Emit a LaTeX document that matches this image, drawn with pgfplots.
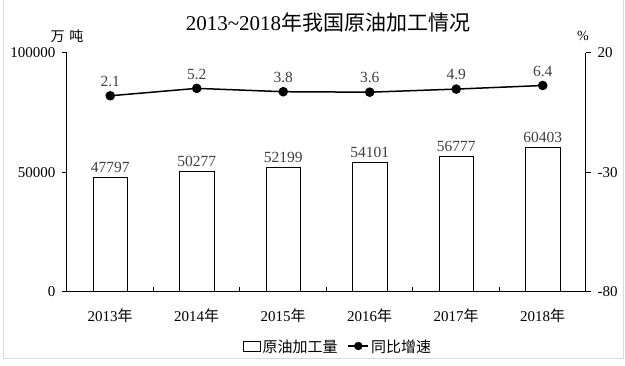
\documentclass[border=0pt]{standalone}
\usepackage{fontspec}
\setmainfont{Liberation Serif}
\newfontfamily\cjk{Noto Sans CJK SC}
\usepackage{pgfplots}
\pgfplotsset{compat=1.18}
\definecolor{lblgray}{HTML}{404040}
\definecolor{framegray}{HTML}{D9D9D9}
\begin{document}
\begin{tikzpicture}[x=1pt,y=1pt]
\path[use as bounding box] (0,0) rectangle (625,366);
\draw[framegray, line width=1pt] (3,7) rectangle (623,366.5);
% title and units
\node[font=\fontsize{21}{21}\selectfont] at (328,343) {2013\textasciitilde 2018{\cjk 年我国原油加工情况}};
\node[font=\fontsize{14}{14}\selectfont] at (67,330) {{\cjk 万}\hspace{5pt}{\cjk 吨}};
\node[font=\fontsize{14}{14}\selectfont] at (583,330) {\%};
% bars, left axis
\begin{axis}[
  at={(67pt,74pt)}, anchor=south west,
  scale only axis, width=519pt, height=239pt,
  xmin=-0.5, xmax=5.5, ymin=0, ymax=100000,
  axis x line*=bottom, axis y line*=left,
  axis line style={line width=1pt, -},
  xtick={0,1,2,3,4,5},
  xticklabels={2013{\cjk 年},2014{\cjk 年},2015{\cjk 年},2016{\cjk 年},2017{\cjk 年},2018{\cjk 年}},
  xtick style={draw=none},
  ytick={0,50000,100000},
  scaled y ticks=false,
  tick align=outside, major tick length=5pt,
  ytick style={line width=1pt, black},
  yticklabel style={/pgf/number format/fixed, /pgf/number format/set thousands separator={}},
  /pgf/number format/assume math mode=true,
  tick label style={font=\fontsize{15}{15}\selectfont, black},
  xticklabel style={yshift=-8pt},
  yticklabel style={xshift=-3pt},
  legend style={at={(0.522,-0.228)}, anchor=center, draw=none, legend columns=2,
    font=\fontsize{15}{15}\selectfont, /tikz/every even column/.append style={column sep=8pt}},
  legend image code/.code={},
]
\addplot[ybar, bar width=34.5pt, fill=white, draw=black, line width=0.9pt,
  point meta=explicit symbolic,
  nodes near coords, nodes near coords style={font=\fontsize{15.5}{15.5}\selectfont, text=lblgray, yshift=1pt},
  legend image code/.code={\draw[black, line width=0.8pt, fill=white] (0pt,-4.5pt) rectangle (17pt,5.5pt);}]
  coordinates {(0,47797)[47797] (1,50277)[50277] (2,52199)[52199] (3,54101)[54101] (4,56777)[56777] (5,60403)[60403]};
\addlegendentry{{\cjk 原油加工量}}
\addlegendimage{legend image code/.code={\draw[black, line width=1.5pt] (0pt,0.5pt) -- (20pt,0.5pt); \fill[black] (10pt,0.5pt) circle (4pt);}}
\addlegendentry{{\cjk 同比增速}}
\end{axis}
% x boundary ticks (inside)
\begin{axis}[
  at={(67pt,74pt)}, anchor=south west,
  scale only axis, width=519pt, height=239pt,
  xmin=-0.5, xmax=5.5, ymin=0, ymax=1,
  axis x line*=bottom, axis y line=none,
  axis line style={line width=1pt, -},
  xtick={0.5,1.5,2.5,3.5,4.5}, xticklabels={},
  tick align=inside, major tick length=5pt,
  xtick style={line width=1pt, black},
]
\addplot[draw=none] coordinates {(0,0)};
\end{axis}
% line, right axis
\begin{axis}[
  at={(67pt,74pt)}, anchor=south west,
  scale only axis, width=519pt, height=239pt,
  xmin=-0.5, xmax=5.5, ymin=-80, ymax=20,
  axis x line=none, axis y line*=right,
  axis line style={line width=1pt, -},
  ytick={-80,-30,20},
  tick align=outside, major tick length=5pt,
  ytick style={line width=1pt, black},
  /pgf/number format/assume math mode=true,
  tick label style={font=\fontsize{15}{15}\selectfont, black},
  yticklabel style={xshift=3pt},
]
\addplot[black, line width=1.5pt, mark=*, mark size=4pt,
  point meta=explicit symbolic,
  nodes near coords, nodes near coords style={font=\fontsize{15.5}{15.5}\selectfont, text=lblgray, yshift=5pt}]
  coordinates {(0,2.1)[2.1] (1,5.2)[5.2] (2,3.8)[3.8] (3,3.6)[3.6] (4,4.9)[4.9] (5,6.4)[6.4]};
\end{axis}
\end{tikzpicture}
\end{document}
